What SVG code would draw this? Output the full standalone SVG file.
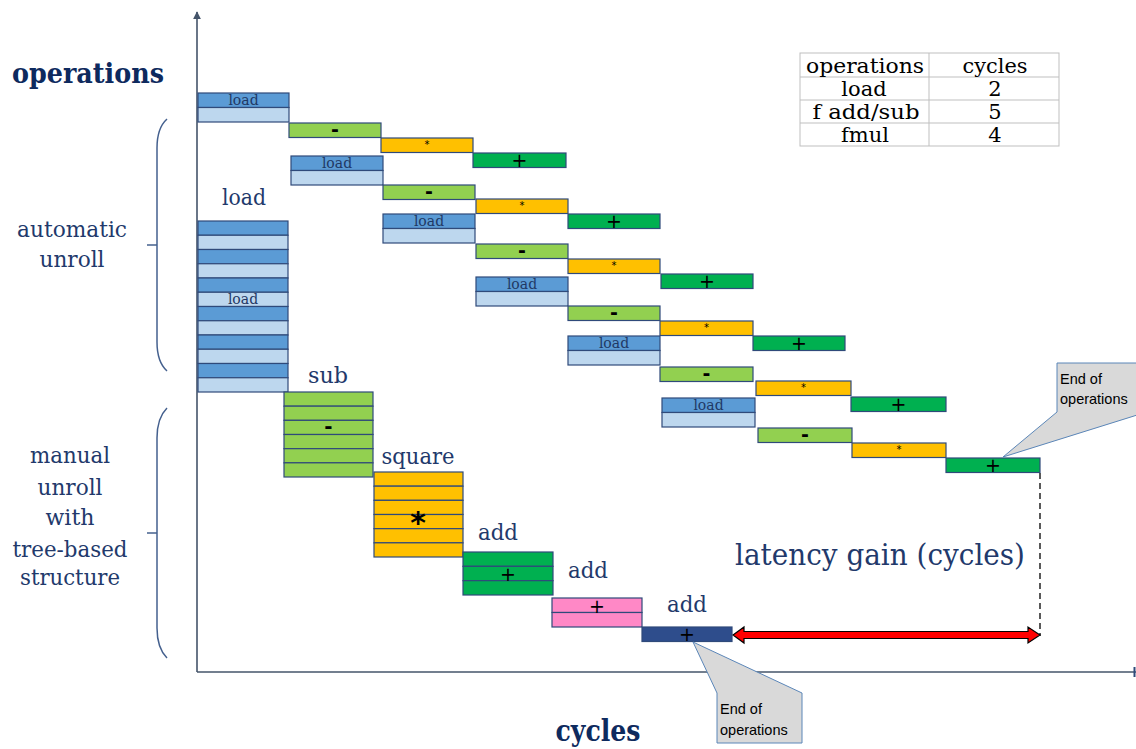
<svg xmlns="http://www.w3.org/2000/svg" width="1136" height="749" viewBox="0 0 1136 749">
  <style>
    .ld { fill: #5B9BD5; stroke: #2F4A7A; stroke-width: 1.2; }
    .ll { fill: #BDD7EE; stroke: #2F4A7A; stroke-width: 1.2; }
    .sb { fill: #92D050; stroke: #2F4A7A; stroke-width: 1.2; }
    .ml { fill: #FFC000; stroke: #2F4A7A; stroke-width: 1.2; }
    .ad { fill: #00B050; stroke: #2F4A7A; stroke-width: 1.2; }
    .pk { fill: #FF88C6; stroke: #2F4A7A; stroke-width: 1.2; }
    .db { fill: #2E4D8C; stroke: #2F4A7A; stroke-width: 1.2; }
    .axis { stroke: #44546A; stroke-width: 1.6; fill: none; }
    .brace { stroke: #44608E; stroke-width: 1.5; fill: none; }
    .lbl { font-family: "DejaVu Serif", "Liberation Serif", serif; fill: #22396B; }
    .small { font-family: "DejaVu Serif", "Liberation Serif", serif; font-size: 14px; fill: #1F3864; text-anchor: middle; }
    .op { font-family: "DejaVu Sans", "Liberation Sans", sans-serif; fill: #000; text-anchor: middle; }
    .tbl { font-family: "DejaVu Serif", "Liberation Serif", serif; font-size: 21px; fill: #000; text-anchor: middle; }
    .callout { fill: #D9D9D9; stroke: #5B86B8; stroke-width: 1; }
    .ctext { font-family: "Liberation Sans", "DejaVu Sans", sans-serif; font-size: 14.5px; fill: #000; }
  </style>
  <defs>
    <marker id="axhead" viewBox="0 0 10 10" refX="9" refY="5" markerWidth="5" markerHeight="5" orient="auto">
      <path d="M0,0 L10,5 L0,10 z" fill="#44546A"/>
    </marker>
  </defs>

  <rect width="1136" height="749" fill="#fff"/>

  <!-- axes -->
  <g id="axes">
    <line class="axis" x1="197" y1="672" x2="197" y2="12" marker-end="url(#axhead)"/>
    <line class="axis" x1="197" y1="672" x2="1136" y2="672"/>
    <line x1="1134.5" y1="667" x2="1134.5" y2="677" stroke="#2F4A7A" stroke-width="2"/>
    <text class="lbl" x="12" y="83" font-size="27" font-weight="bold" textLength="152" lengthAdjust="spacingAndGlyphs" style="fill:#0E2A5E">operations</text>
    <text class="lbl" x="598" y="741" font-size="30" text-anchor="middle" textLength="85" lengthAdjust="spacingAndGlyphs" style="fill:#0E2A5E;font-weight:600">cycles</text>
  </g>

  <!-- latency table -->
  <g id="table">
    <rect x="800" y="53" width="259" height="93" fill="#fff" stroke="#BFBFBF" stroke-width="1"/>
    <line x1="929" y1="53" x2="929" y2="146" stroke="#BFBFBF"/>
    <line x1="800" y1="77" x2="1059" y2="77" stroke="#BFBFBF"/>
    <line x1="800" y1="100" x2="1059" y2="100" stroke="#BFBFBF"/>
    <line x1="800" y1="123" x2="1059" y2="123" stroke="#BFBFBF"/>
    <text class="tbl" x="865" y="73" textLength="118" lengthAdjust="spacingAndGlyphs">operations</text>
    <text class="tbl" x="995" y="73" textLength="65" lengthAdjust="spacingAndGlyphs">cycles</text>
    <text class="tbl" x="864" y="96">load</text>
    <text class="tbl" x="995" y="96">2</text>
    <text class="tbl" x="866" y="119" textLength="107" lengthAdjust="spacingAndGlyphs">f add/sub</text>
    <text class="tbl" x="995" y="119">5</text>
    <text class="tbl" x="865" y="142">fmul</text>
    <text class="tbl" x="995" y="142">4</text>
  </g>

  <!-- braces and side labels -->
  <g id="auto-label">
    <path class="brace" d="M167,119 Q157,128 157,148 L157,342 Q157,362 167,371"/>
    <line class="brace" x1="147" y1="245" x2="157" y2="245"/>
    <text class="lbl" x="72" y="237" font-size="22" text-anchor="middle" textLength="110" lengthAdjust="spacingAndGlyphs">automatic</text>
    <text class="lbl" x="72" y="267" font-size="22" text-anchor="middle" textLength="65" lengthAdjust="spacingAndGlyphs">unroll</text>
  </g>
  <g id="manual-label">
    <path class="brace" d="M167,408 Q157,418 157,438 L157,628 Q157,648 167,658"/>
    <line class="brace" x1="147" y1="533" x2="157" y2="533"/>
    <text class="lbl" x="70" y="463" font-size="22" text-anchor="middle" textLength="80" lengthAdjust="spacingAndGlyphs">manual</text>
    <text class="lbl" x="70" y="495" font-size="22" text-anchor="middle" textLength="65" lengthAdjust="spacingAndGlyphs">unroll</text>
    <text class="lbl" x="70" y="525" font-size="22" text-anchor="middle" textLength="49" lengthAdjust="spacingAndGlyphs">with</text>
    <text class="lbl" x="70" y="557" font-size="22" text-anchor="middle" textLength="115" lengthAdjust="spacingAndGlyphs">tree-based</text>
    <text class="lbl" x="70" y="585" font-size="22" text-anchor="middle" textLength="100" lengthAdjust="spacingAndGlyphs">structure</text>
  </g>

  <!-- automatic unroll: six staggered iterations -->
  <g id="iter1">
    <rect class="ld" x="198" y="93" width="91" height="14.5"/><rect class="ll" x="198" y="107.5" width="91" height="14.5"/>
    <text class="small" x="243.5" y="105">load</text>
    <rect class="sb" x="289" y="123" width="92" height="14.5"/><text class="op" x="335" y="135.5" font-size="19" font-weight="bold">-</text>
    <rect class="ml" x="381" y="138" width="92" height="14.5"/><text class="op" x="427" y="148" font-size="10">*</text>
    <rect class="ad" x="473" y="153" width="93" height="14.5"/><text class="op" x="519.5" y="166.5" font-size="19">+</text>
  </g>
  <g id="iter2">
    <rect class="ld" x="291" y="156" width="92" height="14.5"/><rect class="ll" x="291" y="170.5" width="92" height="14.5"/>
    <text class="small" x="337" y="168">load</text>
    <rect class="sb" x="383" y="185" width="92" height="14.5"/><text class="op" x="429" y="197.5" font-size="19" font-weight="bold">-</text>
    <rect class="ml" x="476" y="199" width="92" height="14.5"/><text class="op" x="522" y="209" font-size="10">*</text>
    <rect class="ad" x="568" y="214" width="92" height="14.5"/><text class="op" x="614" y="227.5" font-size="19">+</text>
  </g>
  <g id="iter3">
    <rect class="ld" x="383" y="214" width="92" height="14.5"/><rect class="ll" x="383" y="228.5" width="92" height="14.5"/>
    <text class="small" x="429" y="226">load</text>
    <rect class="sb" x="476" y="244" width="92" height="14.5"/><text class="op" x="522" y="256.5" font-size="19" font-weight="bold">-</text>
    <rect class="ml" x="568" y="259" width="92" height="14.5"/><text class="op" x="614" y="269" font-size="10">*</text>
    <rect class="ad" x="661" y="274" width="92" height="14.5"/><text class="op" x="707" y="287.5" font-size="19">+</text>
  </g>
  <g id="iter4">
    <rect class="ld" x="476" y="277" width="92" height="14.5"/><rect class="ll" x="476" y="291.5" width="92" height="14.5"/>
    <text class="small" x="522" y="289">load</text>
    <rect class="sb" x="568" y="306" width="92" height="14.5"/><text class="op" x="614" y="318.5" font-size="19" font-weight="bold">-</text>
    <rect class="ml" x="660" y="321" width="93" height="14.5"/><text class="op" x="706.5" y="331" font-size="10">*</text>
    <rect class="ad" x="753" y="336" width="92" height="14.5"/><text class="op" x="799" y="349.5" font-size="19">+</text>
  </g>
  <g id="iter5">
    <rect class="ld" x="568" y="336" width="92" height="14.5"/><rect class="ll" x="568" y="350.5" width="92" height="14.5"/>
    <text class="small" x="614" y="348">load</text>
    <rect class="sb" x="660" y="367" width="93" height="14.5"/><text class="op" x="706.5" y="379.5" font-size="19" font-weight="bold">-</text>
    <rect class="ml" x="756" y="381" width="95" height="14.5"/><text class="op" x="803.5" y="391" font-size="10">*</text>
    <rect class="ad" x="851" y="397" width="95" height="14.5"/><text class="op" x="898.5" y="410.5" font-size="19">+</text>
  </g>
  <g id="iter6">
    <rect class="ld" x="662" y="398" width="93" height="14.5"/><rect class="ll" x="662" y="412.5" width="93" height="14.5"/>
    <text class="small" x="708.5" y="410">load</text>
    <rect class="sb" x="758" y="428" width="94" height="14.5"/><text class="op" x="805" y="440.5" font-size="19" font-weight="bold">-</text>
    <rect class="ml" x="852" y="443" width="94" height="14.5"/><text class="op" x="899" y="453" font-size="10">*</text>
    <rect class="ad" x="946" y="458" width="94" height="14.5"/><text class="op" x="993" y="471.5" font-size="19">+</text>
  </g>

  <!-- manual unroll: tree-based reduction -->
  <g id="load-stack">
    <text class="lbl" x="244" y="205" font-size="22" text-anchor="middle" textLength="44" lengthAdjust="spacingAndGlyphs">load</text>
    <rect class="ld" x="198" y="221" width="90" height="14.25"/>
    <rect class="ll" x="198" y="235.25" width="90" height="14.25"/>
    <rect class="ld" x="198" y="249.5" width="90" height="14.25"/>
    <rect class="ll" x="198" y="263.75" width="90" height="14.25"/>
    <rect class="ld" x="198" y="278" width="90" height="14.25"/>
    <rect class="ll" x="198" y="292.25" width="90" height="14.25"/>
    <rect class="ld" x="198" y="306.5" width="90" height="14.25"/>
    <rect class="ll" x="198" y="320.75" width="90" height="14.25"/>
    <rect class="ld" x="198" y="335" width="90" height="14.25"/>
    <rect class="ll" x="198" y="349.25" width="90" height="14.25"/>
    <rect class="ld" x="198" y="363.5" width="90" height="14.25"/>
    <rect class="ll" x="198" y="377.75" width="90" height="14.25"/>
    <text class="small" x="243" y="304">load</text>
  </g>
  <g id="sub-stack">
    <text class="lbl" x="328" y="383" font-size="22" text-anchor="middle" textLength="40" lengthAdjust="spacingAndGlyphs">sub</text>
    <rect class="sb" x="284" y="392" width="89" height="14.17"/>
    <rect class="sb" x="284" y="406.17" width="89" height="14.17"/>
    <rect class="sb" x="284" y="420.33" width="89" height="14.17"/>
    <rect class="sb" x="284" y="434.5" width="89" height="14.17"/>
    <rect class="sb" x="284" y="448.67" width="89" height="14.17"/>
    <rect class="sb" x="284" y="462.83" width="89" height="14.17"/>
    <text class="op" x="328.5" y="433" font-size="20" font-weight="bold">-</text>
  </g>
  <g id="square-stack">
    <text class="lbl" x="418" y="464" font-size="22" text-anchor="middle" textLength="73" lengthAdjust="spacingAndGlyphs">square</text>
    <rect class="ml" x="374" y="472" width="89" height="14.17"/>
    <rect class="ml" x="374" y="486.17" width="89" height="14.17"/>
    <rect class="ml" x="374" y="500.33" width="89" height="14.17"/>
    <rect class="ml" x="374" y="514.5" width="89" height="14.17"/>
    <rect class="ml" x="374" y="528.67" width="89" height="14.17"/>
    <rect class="ml" x="374" y="542.83" width="89" height="14.17"/>
    <text class="op" x="418" y="533" font-size="30" font-weight="bold">*</text>
  </g>
  <g id="add-stack-1">
    <text class="lbl" x="498" y="540" font-size="22" text-anchor="middle" textLength="40" lengthAdjust="spacingAndGlyphs">add</text>
    <rect class="ad" x="463" y="552" width="90" height="14.33"/>
    <rect class="ad" x="463" y="566.33" width="90" height="14.33"/>
    <rect class="ad" x="463" y="580.67" width="90" height="14.33"/>
    <text class="op" x="508" y="581" font-size="19">+</text>
  </g>
  <g id="add-stack-2">
    <text class="lbl" x="588" y="578" font-size="22" text-anchor="middle" textLength="40" lengthAdjust="spacingAndGlyphs">add</text>
    <rect class="pk" x="552" y="598" width="90" height="14.5"/>
    <rect class="pk" x="552" y="612.5" width="90" height="14.5"/>
    <text class="op" x="597" y="613" font-size="19">+</text>
  </g>
  <g id="add-final">
    <text class="lbl" x="687" y="612" font-size="22" text-anchor="middle" textLength="40" lengthAdjust="spacingAndGlyphs">add</text>
    <rect class="db" x="642" y="627" width="90" height="14.5"/>
    <text class="op" x="687" y="641" font-size="19">+</text>
  </g>

  <!-- end-of-operations callouts -->
  <g id="callout-auto">
    <polygon class="callout" points="1057,363 1150,363 1150,411 1003,457 1057,412"/>
    <text class="ctext" x="1060" y="384">End of</text>
    <text class="ctext" x="1060" y="404">operations</text>
  </g>
  <g id="callout-manual">
    <polygon class="callout" points="693,642 802,693 802,743 717,743 717,693"/>
    <text class="ctext" x="720" y="714">End of</text>
    <text class="ctext" x="720" y="735">operations</text>
  </g>

  <!-- latency gain connectors -->
  <g id="connectors">
    <line x1="1040" y1="473" x2="1040" y2="636" stroke="#000" stroke-width="1.3" stroke-dasharray="6,4"/>
    <polygon points="733,635 744,627 744,631.5 1028,631.5 1028,627 1040,635 1028,643 1028,638.5 744,638.5 744,643" fill="#FF0000" stroke="#000" stroke-width="1.2" stroke-linejoin="miter"/>
  </g>
  <g id="gain-label">
    <text class="lbl" x="880" y="565" font-size="29" text-anchor="middle" textLength="290" lengthAdjust="spacingAndGlyphs">latency gain (cycles)</text>
  </g>
</svg>
